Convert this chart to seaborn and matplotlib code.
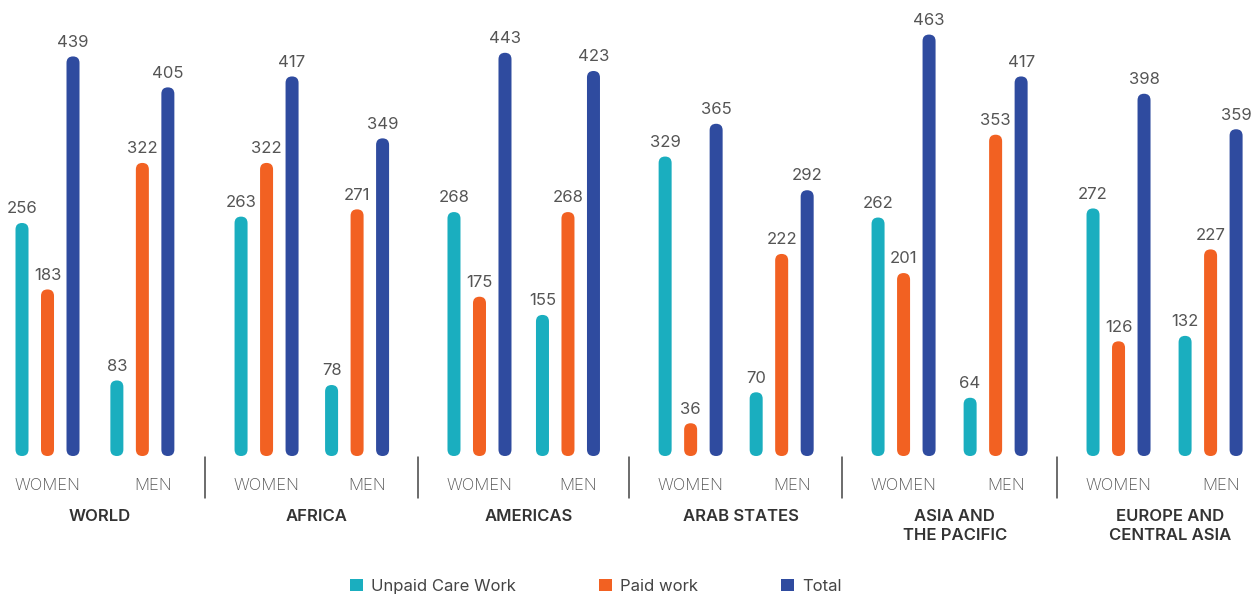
import pandas as pd
import seaborn as sns
import matplotlib.pyplot as plt
from matplotlib.patches import FancyBboxPatch, Patch

regions = ['WORLD', 'AFRICA', 'AMERICAS', 'ARAB STATES',
           'ASIA AND\nTHE PACIFIC', 'EUROPE AND\nCENTRAL ASIA']
sexes = ['WOMEN', 'MEN']
measures = ['Unpaid Care Work', 'Paid work', 'Total']

unpaid_women = [256, 263, 268, 329, 262, 272]
paid_women = [183, 322, 175, 36, 201, 126]
total_women = [439, 417, 443, 365, 463, 398]
unpaid_men = [83, 78, 155, 70, 64, 132]
paid_men = [322, 271, 268, 222, 353, 227]
total_men = [405, 349, 423, 292, 417, 359]

colors = ['#1aaebf', '#f26122', '#2f4b9f']

# layout (bar pitch = 1 unit)
region_start = [0, 8.59, 16.94, 25.22, 33.57, 42.0]
men_offset = [3.72, 3.55, 3.47, 3.57, 3.61, 3.61]

values = {
    ('WOMEN', 'Unpaid Care Work'): unpaid_women,
    ('WOMEN', 'Paid work'): paid_women,
    ('WOMEN', 'Total'): total_women,
    ('MEN', 'Unpaid Care Work'): unpaid_men,
    ('MEN', 'Paid work'): paid_men,
    ('MEN', 'Total'): total_men,
}

rows = []
for r, reg in enumerate(regions):
    for s, sex in enumerate(sexes):
        for m, meas in enumerate(measures):
            rows.append({'region': reg, 'sex': sex, 'measure': meas,
                         'pos': region_start[r] + s * men_offset[r] + m,
                         'value': values[(sex, meas)][r]})
df = pd.DataFrame(rows)

sns.set_style('white')
plt.rcParams['font.family'] = ['Inter', 'DejaVu Sans']

fig = plt.figure(figsize=(12.57, 5.95), dpi=100)
ax = fig.add_axes([0, 0.2336, 1, 0.7496])

sns.barplot(data=df, x='pos', y='value', hue='measure', hue_order=measures,
            palette=colors, native_scale=True, dodge=False, width=0.51,
            errorbar=None, saturation=1, legend=False, ax=ax)

ax.set_xlim(-0.863, 48.43)
ax.set_ylim(0, 490)
ax.set_axis_off()

# rounded bars
fig.canvas.draw()
p0 = ax.transData.transform((0, 0))
p1 = ax.transData.transform((1, 1))
aspect = (p1[0] - p0[0]) / (p1[1] - p0[1])
for p in list(ax.patches):
    x0, y0 = p.get_xy()
    w, h = p.get_width(), p.get_height()
    fc = p.get_facecolor()
    p.remove()
    ax.add_patch(FancyBboxPatch((x0, y0), w, h,
                                boxstyle=f'round,pad=0,rounding_size={w / 2}',
                                mutation_aspect=aspect, fc=fc, ec='none'))

# value labels
for _, row in df.iterrows():
    ax.annotate(str(row['value']), (row['pos'], row['value']),
                xytext=(0, 7), textcoords='offset points',
                ha='center', va='baseline', fontsize=12, color='#555555')

xt = ax.get_xaxis_transform()
for r, reg in enumerate(regions):
    w_c = region_start[r] + 1
    m_c = region_start[r] + men_offset[r] + 1.4
    ax.annotate('WOMEN', (w_c, 0), xycoords=xt, xytext=(0, -21.5),
                textcoords='offset points', ha='center', va='center',
                fontsize=12, color='#555555', fontweight='light')
    ax.annotate('MEN', (m_c, 0), xycoords=xt, xytext=(0, -21.5),
                textcoords='offset points', ha='center', va='center',
                fontsize=12, color='#555555', fontweight='light')
    ax.annotate(reg, ((w_c + m_c) / 2, 0), xycoords=xt, xytext=(0, -38.5),
                textcoords='offset points', ha='center', va='top',
                fontsize=12, color='#333333', fontweight='semibold',
                linespacing=1.3)
    if r > 0:
        sx = region_start[r] - 1.4
        ax.plot([sx, sx], [-0.002, -0.094], transform=xt, color='#444444',
                lw=1.1, clip_on=False)

handles = [Patch(facecolor=c, edgecolor='none', label=l) for c, l in zip(colors, measures)]
fig.legend(handles=handles, loc='center', bbox_to_anchor=(0.474, 0.014),
           ncol=3, frameon=False, fontsize=12, handlelength=0.75,
           handleheight=0.75, handletextpad=0.5, columnspacing=5.0,
           labelcolor='#444444')

fig.savefig('out.png', dpi=100)
